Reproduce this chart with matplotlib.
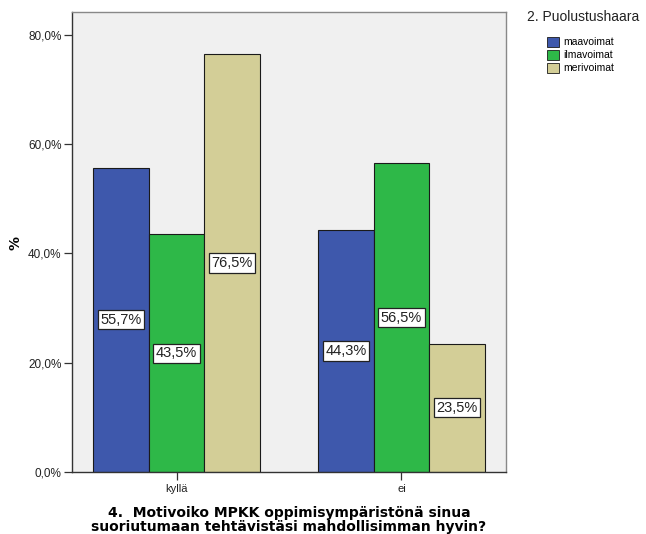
import matplotlib
matplotlib.use("Agg")
import matplotlib.pyplot as plt
import numpy as np

categories = ["kyllä", "ei"]
series_names = ["maavoimat", "ilmavoimat", "merivoimat"]
values = {
    "maavoimat": [55.7, 44.3],
    "ilmavoimat": [43.5, 56.5],
    "merivoimat": [76.5, 23.5],
}
colors = ["#3E58AC", "#2EB848", "#D3CE97"]
yticks = [0, 20, 40, 60, 80]

plt.rcParams["font.family"] = ["Liberation Sans", "DejaVu Sans"]

fig = plt.figure(figsize=(6.46, 5.34), dpi=100)
ax = fig.add_axes([72 / 646, 1 - 472 / 534, (506 - 72) / 646, (472 - 12) / 534])
ax.set_facecolor("#F0F0F0")

x = np.arange(len(categories))
width = 0.247
for i, name in enumerate(series_names):
    xs = x + (i - 1) * width
    vals = values[name]
    ax.bar(xs, vals, width=width, color=colors[i], edgecolor="#1a1a1a",
           linewidth=0.8, label=name, zorder=2)
    for xi, v in zip(xs, vals):
        ax.text(xi, v / 2, f"{v:.1f}%".replace(".", ","), ha="center", va="center",
                fontsize=10.5, color="#222222", zorder=3,
                bbox=dict(boxstyle="square,pad=0.18", facecolor="white",
                          edgecolor="#222222", linewidth=0.9))

ax.set_xlim(-0.465, 1.465)
ax.set_ylim(0, 84.2)
ax.set_yticks(yticks)
ax.set_yticklabels([f"{t:.1f}%".replace(".", ",") for t in yticks], fontsize=8.5, color="#222222")
ax.set_xticks(x)
ax.set_xticklabels(categories, fontsize=8, color="#222222")
ax.tick_params(axis="y", length=6, width=0.9, pad=1.5, color="#333333")
ax.tick_params(axis="x", length=6, width=0.9, pad=3, color="#333333")
for side in ["left", "bottom", "right", "top"]:
    ax.spines[side].set_color("#333333")
    ax.spines[side].set_linewidth(1.0)
ax.spines["right"].set_color("#888888")
ax.spines["top"].set_color("#888888")

fig.text(15 / 646, 1 - 243 / 534, "%", rotation=90, ha="center", va="center",
         fontsize=10, fontweight="bold", family="DejaVu Sans")
fig.text(289 / 646, 1 - 520 / 534,
         "4.  Motivoiko MPKK oppimisympäristönä sinua\nsuoriutumaan tehtävistäsi mahdollisimman hyvin?",
         ha="center", va="center", fontsize=10, fontweight="bold",
         family="DejaVu Sans", linespacing=1.0)

# legend: title placed separately, entries indented below it
fig.text(527 / 646, 1 - 17 / 534, "2. Puolustushaara", ha="left", va="center",
         fontsize=10, color="#222222")
leg = fig.legend(loc="upper left", bbox_to_anchor=(547 / 646, 1 - 37 / 534),
                 frameon=False, fontsize=7.5, handlelength=1.15, handleheight=1.05,
                 handletextpad=0.4, labelspacing=0.25, borderaxespad=0,
                 borderpad=0)
for h in leg.legend_handles:
    h.set_linewidth(0.6)

fig.savefig("out.png", dpi=100)
